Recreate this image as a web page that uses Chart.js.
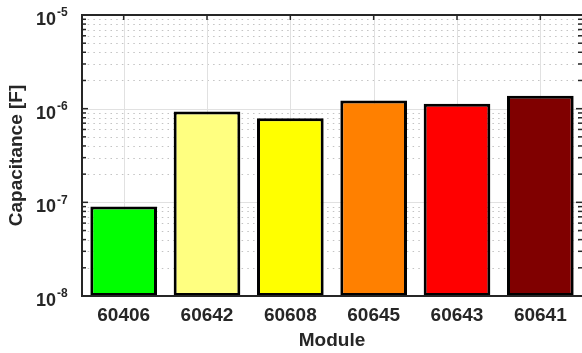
<!DOCTYPE html>
<html>
<head>
<meta charset="utf-8">
<script src="https://cdn.jsdelivr.net/npm/chart.js@4.4.1/dist/chart.umd.min.js"></script>
<style>
  html, body { margin: 0; padding: 0; background: #ffffff; }
  #wrap { width: 582px; height: 353px; }
</style>
</head>
<body>
<div id="wrap"><canvas id="cv" width="582" height="353"></canvas></div>
<script>
// Measured capacitance per module
const modules = ['60406', '60642', '60608', '60645', '60643', '60641'];
const capacitance = [9.0e-8, 9.3e-7, 7.9e-7, 1.22e-6, 1.13e-6, 1.37e-6];
const decadeExponents = [-8, -7, -6, -5];

const barColors = ['#00ff00', '#ffff80', '#ffff00', '#ff8000', '#ff0000', '#800000'];
const INK = '#262626';
const FONT = "'Liberation Sans', Arial, Helvetica, sans-serif";

// Box axes, grid and superscripted decade labels
const boxAxes = {
  id: 'boxAxes',
  beforeDatasetsDraw(chart) {
    const { ctx, chartArea: a, scales: { x, y } } = chart;
    ctx.save();
    ctx.lineWidth = 1;

    // minor grid (dotted) at 2..9 x 10^n
    ctx.strokeStyle = 'rgba(38,38,38,0.28)';
    ctx.setLineDash([1.5, 4.2]);
    for (let i = 0; i < decadeExponents.length - 1; i++) {
      for (let m = 2; m <= 9; m++) {
        const py = Math.round(y.getPixelForValue(m * Math.pow(10, decadeExponents[i]))) + 0.5;
        ctx.beginPath();
        ctx.moveTo(a.left, py);
        ctx.lineTo(a.right, py);
        ctx.stroke();
      }
    }

    // major grid (solid)
    ctx.setLineDash([]);
    ctx.strokeStyle = '#e1e1e1';
    decadeExponents.forEach(e => {
      const py = Math.round(y.getPixelForValue(Math.pow(10, e))) + 0.5;
      ctx.beginPath();
      ctx.moveTo(a.left, py);
      ctx.lineTo(a.right, py);
      ctx.stroke();
    });
    modules.forEach((m, i) => {
      const px = Math.round(x.getPixelForValue(i)) + 0.5;
      ctx.beginPath();
      ctx.moveTo(px, a.top);
      ctx.lineTo(px, a.bottom);
      ctx.stroke();
    });

    // inward tick marks
    ctx.strokeStyle = INK;
    ctx.lineWidth = 1.5;
    const tick = (x0, y0, x1, y1) => {
      ctx.beginPath(); ctx.moveTo(x0, y0); ctx.lineTo(x1, y1); ctx.stroke();
    };
    for (let i = 0; i < decadeExponents.length; i++) {
      const py = y.getPixelForValue(Math.pow(10, decadeExponents[i]));
      tick(a.left, py, a.left + 6, py);
      tick(a.right, py, a.right - 6, py);
      if (i < decadeExponents.length - 1) {
        for (let m = 2; m <= 9; m++) {
          const pm = y.getPixelForValue(m * Math.pow(10, decadeExponents[i]));
          tick(a.left, pm, a.left + 4, pm);
          tick(a.right, pm, a.right - 4, pm);
        }
      }
    }
    modules.forEach((m, i) => {
      const px = x.getPixelForValue(i);
      tick(px, a.top, px, a.top + 5);
      tick(px, a.bottom, px, a.bottom - 5);
    });
    ctx.restore();
  },
  afterDatasetsDraw(chart) {
    const { ctx, chartArea: a } = chart;
    ctx.save();
    ctx.strokeStyle = INK;
    ctx.lineWidth = 2;
    ctx.beginPath();
    ctx.moveTo(a.right, a.top);
    ctx.lineTo(a.left, a.top);
    ctx.lineTo(a.left, a.bottom);
    ctx.lineTo(a.right, a.bottom);
    ctx.stroke();
    ctx.restore();
  },
  afterDraw(chart) {
    const { ctx, chartArea: a, scales: { y } } = chart;
    ctx.save();
    ctx.fillStyle = INK;

    // decade labels 10^n
    decadeExponents.forEach(e => {
      const py = y.getPixelForValue(Math.pow(10, e));
      ctx.font = 'bold 18px ' + FONT;
      ctx.textAlign = 'right';
      ctx.textBaseline = 'middle';
      ctx.fillText('10', 56, py + 5);
      ctx.font = 'bold 12px ' + FONT;
      ctx.textAlign = 'left';
      ctx.fillText('-' + Math.abs(e), 57, py - 2);
    });

    // axis titles
    ctx.font = 'bold 19px ' + FONT;
    ctx.textAlign = 'center';
    ctx.textBaseline = 'middle';
    ctx.fillText('Module', (a.left + a.right) / 2, 341);
    ctx.translate(17, (a.top + a.bottom) / 2);
    ctx.rotate(-Math.PI / 2);
    ctx.fillText('Capacitance [F]', 0, 0);
    ctx.restore();
  }
};

new Chart(document.getElementById('cv'), {
  type: 'bar',
  data: {
    labels: modules,
    datasets: [{
      data: capacitance,
      backgroundColor: barColors,
      borderColor: '#000000',
      borderWidth: 3,
      borderSkipped: false,
      barPercentage: 0.8,
      categoryPercentage: 1.0
    }]
  },
  options: {
    responsive: false,
    animation: false,
    events: [],
    layout: { padding: { top: 15, left: 0, right: 0, bottom: 0 } },
    plugins: { legend: { display: false }, tooltip: { enabled: false } },
    scales: {
      x: {
        grid: { display: false, drawTicks: false },
        border: { display: false },
        ticks: {
          color: INK,
          padding: 8,
          font: { family: FONT, weight: 'bold', size: 19 }
        },
        afterFit(scale) { scale.height = 57; }
      },
      y: {
        type: 'logarithmic',
        min: 1e-8,
        max: 1e-5,
        grid: { display: false },
        border: { display: false },
        ticks: { display: false },
        afterFit(scale) { scale.width = 82; }
      }
    }
  },
  plugins: [boxAxes]
});
</script>
</body>
</html>
